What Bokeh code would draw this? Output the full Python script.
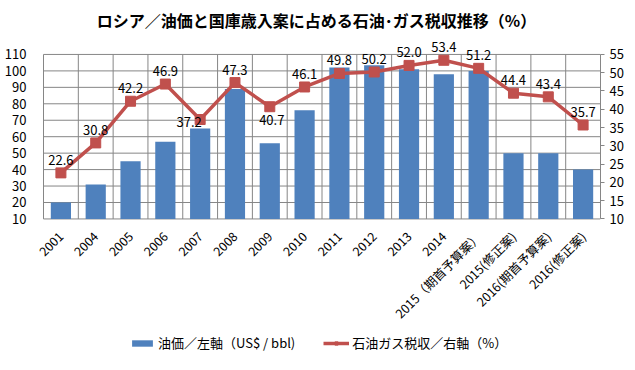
from bokeh.plotting import figure
from bokeh.models import (Range1d, LinearAxis, FixedTicker, ColumnDataSource,
                          LabelSet, Legend, LegendItem)
from bokeh.core.properties import value
from bokeh.embed import file_html
from bokeh.resources import INLINE
import math

categories = ["2001", "2004", "2005", "2006", "2007", "2008", "2009", "2010",
              "2011", "2012", "2013", "2014", "2015（期首予算案）", "2015(修正案)",
              "2016(期首予算案)", "2016(修正案)"]
oil_price = [20, 31, 45, 57, 65, 89, 56, 76, 102, 103.5, 101, 98, 100, 50, 50, 40]
tax_share = [22.6, 30.8, 42.2, 46.9, 37.2, 47.3, 40.7, 46.1, 49.8, 50.2, 52.0, 53.4,
             51.2, 44.4, 43.4, 35.7]
left_ticks = list(range(10, 111, 10))
right_ticks = list(range(10, 56, 5))

FONT = "Noto Sans CJK JP"
GRID = "#868686"
BLUE = "#4F81BD"
RED = "#C0504D"

W, H = 627, 362
FR_TOP = 35          # frame top (px)
FR_LEFT = 32         # frame left (px)
CAT_LEFT = 43        # pixel of first category boundary
CAT_RIGHT = 600      # pixel of last category boundary
GRID_TOP = 53        # pixel of top tick
GRID_BOT = 218       # pixel of bottom tick

n = len(categories)
xs = list(range(n))

L_MIN, L_MAX = left_ticks[0], left_ticks[-1]
R_MIN, R_MAX = right_ticks[0], right_ticks[-1]
grid_px = float(GRID_BOT - GRID_TOP)
lk = (L_MAX - L_MIN) / grid_px
rk = (R_MAX - R_MIN) / grid_px
l_range = Range1d(L_MIN - (H - GRID_BOT) * lk, L_MAX + (GRID_TOP - FR_TOP) * lk)
r_range = Range1d(R_MIN - (H - GRID_BOT) * rk, R_MAX + (GRID_TOP - FR_TOP) * rk)
xk = n / float(CAT_RIGHT - CAT_LEFT)
x_range = Range1d(-0.5 - (CAT_LEFT - FR_LEFT) * xk, n - 0.5)

p = figure(width=W, height=H, output_backend="svg", toolbar_location=None,
           x_range=x_range, y_range=l_range, x_axis_location=None,
           min_border_left=FR_LEFT, min_border_right=W - CAT_RIGHT,
           min_border_top=FR_TOP, min_border_bottom=0)
p.outline_line_color = None
p.background_fill_color = "white"
p.border_fill_color = "white"
p.xgrid.visible = False
p.ygrid.visible = False

p.title.text = "ロシア／油価と国庫歳入案に占める石油･ガス税収推移（%）"
p.title.align = "center"
p.title.text_font = FONT
p.title.text_font_size = "16px"
p.title.text_font_style = "bold"
p.title.text_color = "black"

p.extra_y_ranges = {"right": r_range}

ya = p.yaxis[0]
ya.ticker = FixedTicker(ticks=left_ticks)
ya.bounds = (L_MIN, L_MAX)
ya.axis_line_color = None
ya.major_tick_line_color = None
ya.minor_tick_line_color = None
ya.major_label_standoff = 0
ya.major_label_text_font = FONT
ya.major_label_text_font_size = "13px"
ya.major_label_text_color = "black"

ra = LinearAxis(y_range_name="right", ticker=FixedTicker(ticks=right_ticks),
                bounds=(R_MIN, R_MAX))
ra.axis_line_color = GRID
ra.major_tick_line_color = GRID
ra.major_tick_in = 0
ra.major_tick_out = 4
ra.minor_tick_line_color = None
ra.major_label_standoff = 5
ra.major_label_text_font = FONT
ra.major_label_text_font_size = "13px"
ra.major_label_text_color = "black"
p.add_layout(ra, "right")

# grid lines: horizontal at left-axis ticks, vertical at category boundaries
hy = left_ticks
p.segment(x0=[-0.5] * len(hy), x1=[n - 0.5] * len(hy), y0=hy, y1=hy,
          line_color=GRID, line_width=1)
bx = [i - 0.5 for i in range(n + 1)]
p.segment(x0=bx, x1=bx, y0=[L_MIN] * len(bx), y1=[L_MAX] * len(bx),
          line_color=GRID, line_width=1)

src = ColumnDataSource(dict(x=xs, price=oil_price, tax=tax_share,
                            base=[L_MIN] * n, cat=categories))

bars = p.vbar(x="x", top="price", bottom=L_MIN, width=0.58, source=src,
              fill_color=BLUE, line_color=None)
line = p.line(x="x", y="tax", source=src, y_range_name="right",
              line_color=RED, line_width=3.5)
marks = p.scatter(x="x", y="tax", source=src, y_range_name="right", marker="square",
                  size=10, fill_color=RED, line_color=RED)

# category labels (rotated 45 degrees, ending under each category)
p.add_layout(LabelSet(source=src, x="x", y="base", text="cat", angle=math.pi / 4,
                      text_align="right", text_baseline="middle",
                      x_offset=0, y_offset=-15,
                      text_font=value(FONT), text_font_size=value("12.5px"),
                      text_color="black"))

above_idx = [i for i in range(n) if i not in (4, 6)]
def sub(idx):
    return ColumnDataSource(dict(x=[xs[i] for i in idx],
                                 tax=[tax_share[i] for i in idx],
                                 lbl=["%.1f" % tax_share[i] for i in idx]))

common = dict(x="x", y="tax", text="lbl", y_range_name="right",
              text_font=value(FONT), text_font_size=value("13px"),
              text_color="black")
p.add_layout(LabelSet(source=sub(above_idx), text_align="center",
                      text_baseline="bottom", y_offset=8, **common))
p.add_layout(LabelSet(source=sub([4]), text_align="center",
                      text_baseline="middle", x_offset=-11, y_offset=-2, **common))
p.add_layout(LabelSet(source=sub([6]), text_align="center",
                      text_baseline="top", x_offset=2, y_offset=-8, **common))

legend = Legend(items=[LegendItem(label="油価／左軸（US$ / bbl)", renderers=[bars]),
                       LegendItem(label="石油ガス税収／右軸（%）", renderers=[line, marks])],
                orientation="horizontal", location=(97, 10),
                label_text_font=FONT, label_text_font_size="13px",
                label_text_color="black", glyph_width=26, glyph_height=8,
                label_standoff=3, spacing=28, padding=0, margin=0,
                border_line_color=None, background_fill_alpha=0)
p.add_layout(legend, "center")

open("out.html", "w").write(file_html(p, INLINE))
